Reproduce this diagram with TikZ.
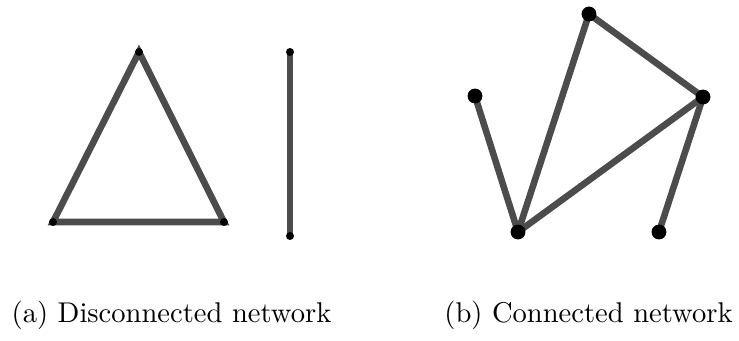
\documentclass[tikz,border=0pt]{standalone}
\begin{document}
\begin{tikzpicture}[x=0.35pt,y=-0.35pt,
  edge/.style={draw=black!70,line width=2.3pt},
  smalldot/.style={circle,fill=black,inner sep=0pt,minimum size=2.8pt},
  bigdot/.style={circle,fill=black,inner sep=0pt,minimum size=5.2pt},
  caption/.style={anchor=base,font=\normalsize,inner sep=0pt}]
\useasboundingbox (0,0) rectangle (739,340);

% (a) two separate components
\coordinate (a1) at (139,52);
\coordinate (a2) at (53,222);
\coordinate (a3) at (224,222);
\coordinate (a4) at (290,52);
\coordinate (a5) at (290,236);
\draw[edge] (a1) -- (a2) -- (a3) -- cycle;
\draw[edge] (a4) -- (a5);
\foreach \p in {a1,a2,a3,a4,a5} \node[smalldot] at (\p) {};

% (b) a single component
\coordinate (b1) at (589,14);
\coordinate (b2) at (475,96);
\coordinate (b3) at (703,97);
\coordinate (b4) at (518,232);
\coordinate (b5) at (659,232);
\draw[edge] (b2) -- (b4);
\draw[edge] (b4) -- (b1);
\draw[edge] (b1) -- (b3);
\draw[edge] (b3) -- (b4);
\draw[edge] (b3) -- (b5);
\foreach \p in {b1,b2,b3,b4,b5} \node[bigdot] at (\p) {};

\node[caption] (capa) at (171.5,322) {(a) Disconnected network};
\node[caption] (capb) at (588.5,322) {(b) Connected network};
\end{tikzpicture}
\end{document}
